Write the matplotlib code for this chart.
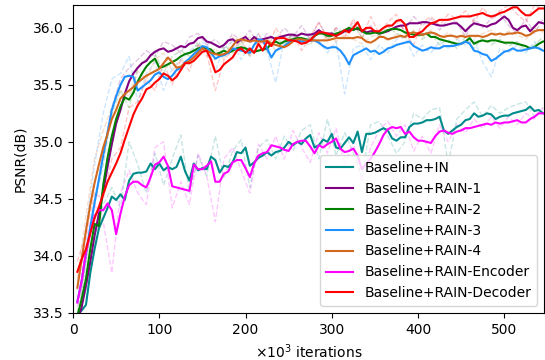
import matplotlib
matplotlib.use('Agg')
import matplotlib.pyplot as plt

# iterations (x10^3)
iters = list(range(5, 550, 5))
iters_raw = list(range(5, 550, 10))

labels = ['Baseline+IN', 'Baseline+RAIN-1', 'Baseline+RAIN-2', 'Baseline+RAIN-3',
          'Baseline+RAIN-4', 'Baseline+RAIN-Encoder', 'Baseline+RAIN-Decoder']
colors = ['darkcyan', 'purple', 'green', 'dodgerblue', 'chocolate', 'magenta', 'red']

# smoothed curves
psnr_in = [
    33.49, 33.52, 33.57, 33.85, 34.06, 34.24, 34.33, 34.42, 34.52, 34.49,
    34.54, 34.49, 34.66, 34.72, 34.73, 34.73, 34.74, 34.81, 34.76, 34.81,
    34.75, 34.78, 34.76, 34.78, 34.87, 34.74, 34.66, 34.81, 34.75, 34.77,
    34.76, 34.87, 34.84, 34.73, 34.79, 34.78, 34.82, 34.91, 34.90, 34.95,
    34.79, 34.82, 34.86, 34.88, 34.91, 34.88, 34.91, 34.92, 34.95, 35.00,
    34.97, 35.00, 34.98, 35.03, 35.06, 34.95, 34.97, 35.02, 35.00, 35.07,
    34.95, 34.94, 34.99, 35.04, 34.99, 35.09, 34.91, 35.07, 35.07, 35.08,
    35.10, 35.12, 35.10, 35.03, 35.01, 35.04, 35.04, 35.13, 35.16, 35.16,
    35.17, 35.19, 35.19, 35.20, 35.22, 35.10, 35.07, 35.10, 35.13, 35.15,
    35.19, 35.20, 35.25, 35.22, 35.23, 35.25, 35.24, 35.20, 35.22, 35.23,
    35.23, 35.25, 35.26, 35.27, 35.28, 35.31, 35.27, 35.28, 35.25]
psnr_rain1 = [
    33.42, 33.55, 33.74, 33.95, 34.18, 34.37, 34.57, 34.78, 34.98, 35.16,
    35.28, 35.42, 35.53, 35.60, 35.65, 35.69, 35.71, 35.76, 35.79, 35.81,
    35.82, 35.79, 35.80, 35.82, 35.84, 35.83, 35.86, 35.87, 35.91, 35.92,
    35.88, 35.87, 35.85, 35.83, 35.85, 35.89, 35.90, 35.87, 35.90, 35.92,
    35.88, 35.92, 35.89, 35.90, 35.91, 35.92, 35.90, 35.92, 35.93, 35.94,
    35.94, 35.93, 35.95, 35.94, 35.94, 35.95, 35.98, 35.95, 35.95, 35.95,
    35.93, 35.95, 35.97, 35.98, 35.99, 35.99, 35.98, 35.96, 35.97, 35.97,
    35.95, 35.96, 35.97, 35.99, 36.01, 36.02, 36.02, 36.04, 36.04, 36.04,
    36.05, 36.05, 36.04, 36.03, 36.02, 36.02, 36.03, 36.04, 36.04, 36.01,
    35.97, 36.01, 36.04, 36.03, 36.02, 36.01, 36.03, 36.04, 36.07, 36.10,
    36.07, 36.00, 35.98, 36.01, 36.02, 35.97, 36.01, 36.05, 36.04]
psnr_rain2 = [
    33.47, 33.62, 33.80, 34.06, 34.28, 34.26, 34.62, 34.86, 35.05, 35.20,
    35.31, 35.39, 35.37, 35.43, 35.53, 35.60, 35.66, 35.70, 35.73, 35.65,
    35.66, 35.68, 35.70, 35.72, 35.75, 35.77, 35.78, 35.80, 35.82, 35.83,
    35.82, 35.81, 35.77, 35.78, 35.80, 35.78, 35.80, 35.82, 35.83, 35.82,
    35.80, 35.79, 35.80, 35.81, 35.82, 35.86, 35.88, 35.86, 35.88, 35.89,
    35.90, 35.91, 35.91, 35.90, 35.89, 35.93, 35.95, 35.95, 35.93, 35.93,
    35.95, 35.96, 35.98, 36.00, 35.98, 36.00, 35.97, 35.95, 35.95, 35.96,
    35.95, 35.96, 35.98, 35.99, 35.99, 35.98, 35.96, 35.95, 35.94, 35.94,
    35.94, 35.95, 35.92, 35.92, 35.90, 35.89, 35.88, 35.87, 35.86, 35.86,
    35.88, 35.91, 35.86, 35.88, 35.89, 35.88, 35.89, 35.89, 35.88, 35.87,
    35.87, 35.87, 35.86, 35.85, 35.84, 35.82, 35.83, 35.86, 35.88]
psnr_rain3 = [
    33.60, 33.78, 34.02, 34.25, 34.47, 34.67, 34.88, 35.08, 35.28, 35.40,
    35.50, 35.57, 35.58, 35.57, 35.45, 35.48, 35.51, 35.54, 35.59, 35.61,
    35.57, 35.55, 35.58, 35.63, 35.65, 35.70, 35.73, 35.77, 35.80, 35.84,
    35.83, 35.78, 35.73, 35.75, 35.76, 35.78, 35.82, 35.81, 35.80, 35.79,
    35.78, 35.85, 35.90, 35.89, 35.82, 35.74, 35.80, 35.82, 35.84, 35.87,
    35.89, 35.89, 35.88, 35.89, 35.89, 35.89, 35.87, 35.84, 35.82, 35.83,
    35.83, 35.80, 35.75, 35.68, 35.76, 35.78, 35.80, 35.82, 35.79, 35.80,
    35.77, 35.79, 35.82, 35.83, 35.85, 35.86, 35.87, 35.88, 35.84, 35.82,
    35.80, 35.81, 35.83, 35.82, 35.82, 35.84, 35.84, 35.84, 35.85, 35.86,
    35.88, 35.86, 35.80, 35.79, 35.77, 35.76, 35.71, 35.73, 35.76, 35.79,
    35.80, 35.82, 35.80, 35.80, 35.81, 35.82, 35.83, 35.82, 35.80]
psnr_rain4 = [
    33.72, 33.97, 34.22, 34.45, 34.64, 34.80, 34.95, 35.07, 35.20, 35.28,
    35.38, 35.42, 35.45, 35.48, 35.52, 35.55, 35.58, 35.60, 35.62, 35.64,
    35.69, 35.74, 35.70, 35.65, 35.66, 35.69, 35.71, 35.74, 35.78, 35.82,
    35.80, 35.78, 35.77, 35.76, 35.77, 35.79, 35.84, 35.89, 35.90, 35.89,
    35.88, 35.89, 35.88, 35.88, 35.89, 35.86, 35.85, 35.84, 35.83, 35.85,
    35.88, 35.90, 35.90, 35.89, 35.89, 35.89, 35.89, 35.89, 35.89, 35.90,
    35.91, 35.91, 35.91, 35.91, 35.91, 35.92, 35.91, 35.88, 35.87, 35.89,
    35.92, 35.92, 35.90, 35.91, 35.92, 35.93, 35.92, 35.95, 35.96, 35.95,
    35.94, 35.95, 35.96, 35.95, 35.93, 35.92, 35.93, 35.93, 35.92, 35.93,
    35.92, 35.93, 35.93, 35.93, 35.92, 35.93, 35.95, 35.94, 35.95, 35.94,
    35.95, 35.95, 35.96, 35.95, 35.93, 35.94, 35.97, 35.98, 35.98]
psnr_enc = [
    33.59, 33.78, 34.03, 34.20, 34.35, 34.40, 34.40, 34.46, 34.40, 34.19,
    34.37, 34.52, 34.62, 34.65, 34.65, 34.62, 34.60, 34.69, 34.80, 34.82,
    34.87, 34.79, 34.61, 34.60, 34.59, 34.58, 34.57, 34.80, 34.76, 34.76,
    34.79, 34.83, 34.65, 34.65, 34.72, 34.74, 34.82, 34.84, 34.84, 34.77,
    34.69, 34.81, 34.88, 34.90, 34.91, 34.97, 34.96, 34.95, 34.93, 34.92,
    34.98, 35.00, 35.01, 35.01, 34.96, 34.90, 34.97, 34.95, 34.98, 35.00,
    35.03, 34.94, 34.91, 34.92, 34.94, 34.88, 34.76, 34.81, 34.85, 34.91,
    34.98, 35.06, 35.11, 35.13, 35.12, 35.13, 35.07, 35.09, 35.04, 35.01,
    35.01, 35.00, 34.99, 35.05, 35.09, 35.10, 35.08, 35.07, 35.09, 35.10,
    35.12, 35.12, 35.13, 35.14, 35.15, 35.16, 35.15, 35.17, 35.16, 35.17,
    35.17, 35.18, 35.19, 35.17, 35.17, 35.20, 35.22, 35.25, 35.25]
psnr_dec = [
    33.86, 33.97, 34.06, 34.20, 34.33, 34.43, 34.54, 34.65, 34.73, 34.81,
    34.90, 35.02, 35.13, 35.24, 35.32, 35.38, 35.46, 35.48, 35.52, 35.55,
    35.60, 35.58, 35.54, 35.57, 35.63, 35.69, 35.69, 35.71, 35.75, 35.79,
    35.80, 35.72, 35.61, 35.63, 35.68, 35.71, 35.74, 35.80, 35.82, 35.78,
    35.82, 35.78, 35.86, 35.80, 35.88, 35.84, 35.91, 35.91, 35.91, 35.89,
    35.89, 35.88, 35.86, 35.87, 35.89, 35.93, 35.96, 35.96, 35.95, 35.94,
    35.93, 35.95, 35.98, 35.96, 36.00, 36.05, 35.97, 36.00, 36.00, 35.97,
    35.97, 36.00, 36.02, 36.02, 36.06, 36.07, 36.03, 35.92, 35.92, 35.95,
    35.97, 36.01, 36.04, 36.05, 36.07, 36.07, 36.07, 36.08, 36.09, 36.10,
    36.10, 36.10, 36.11, 36.12, 36.13, 36.11, 36.10, 36.11, 36.13, 36.14,
    36.16, 36.18, 36.18, 36.14, 36.11, 36.11, 36.14, 36.17, 36.17]

# raw (unsmoothed) curves
raw_in = [
    33.45, 33.70, 34.15, 34.45, 34.60, 34.42, 35.00, 34.80, 34.55, 34.90,
    34.62, 34.85, 35.06, 34.55, 34.88, 34.70, 35.05, 34.68, 34.92, 35.02,
    34.60, 34.95, 35.02, 34.85, 35.05, 34.92, 35.10, 35.15, 34.85, 35.20,
    34.88, 35.08, 34.90, 34.70, 35.15, 35.18, 35.05, 34.90, 35.00, 35.25,
    35.20, 35.28, 35.30, 34.80, 35.20, 35.28, 35.35, 35.22, 35.32, 35.25,
    35.30, 35.33, 35.35, 35.22, 35.30]
raw_rain1 = [
    33.40, 33.95, 34.45, 34.90, 35.30, 35.55, 35.65, 35.72, 35.80, 35.75,
    35.88, 35.85, 35.78, 35.92, 35.95, 35.85, 35.90, 35.82, 35.95, 35.88,
    35.98, 35.85, 35.95, 35.90, 36.00, 35.92, 36.02, 35.90, 36.05, 35.92,
    36.00, 35.95, 36.05, 35.95, 36.02, 35.92, 36.00, 36.05, 35.98, 36.10,
    36.02, 36.08, 35.98, 36.08, 36.05, 35.92, 36.08, 36.00, 36.08, 36.12,
    36.02, 35.95, 36.08, 35.95, 36.08]
raw_rain2 = [
    33.50, 33.95, 34.45, 34.80, 35.25, 35.45, 35.30, 35.65, 35.72, 35.78,
    35.60, 35.75, 35.80, 35.75, 35.88, 35.78, 35.72, 35.85, 35.78, 35.88,
    35.75, 35.85, 35.78, 35.92, 35.85, 35.95, 35.88, 35.85, 35.98, 35.90,
    35.98, 35.95, 36.02, 35.92, 35.98, 35.92, 36.02, 35.95, 35.92, 35.97,
    35.90, 35.95, 35.85, 35.90, 35.82, 35.92, 35.82, 35.92, 35.85, 35.90,
    35.84, 35.88, 35.80, 35.85, 35.92]
raw_rain3 = [
    33.70, 34.25, 34.80, 35.25, 35.55, 35.60, 35.75, 35.35, 35.60, 35.70,
    35.45, 35.65, 35.72, 35.80, 35.85, 35.88, 35.62, 35.82, 35.88, 35.72,
    35.85, 35.95, 35.80, 35.52, 35.90, 35.93, 35.85, 35.95, 35.88, 35.78,
    35.88, 35.42, 35.82, 35.85, 35.72, 35.85, 35.78, 35.90, 35.92, 35.75,
    35.85, 35.78, 35.88, 35.82, 35.90, 35.85, 35.90, 35.70, 35.57, 35.82,
    35.78, 35.85, 35.78, 35.88, 35.80]
raw_rain4 = [
    33.80, 34.35, 34.85, 35.10, 35.30, 35.45, 35.40, 35.62, 35.55, 35.72,
    35.78, 35.62, 35.72, 35.68, 35.85, 35.75, 35.82, 35.72, 35.92, 35.85,
    35.92, 35.84, 35.92, 35.80, 35.88, 35.92, 35.86, 35.92, 35.86, 35.93,
    35.88, 35.94, 35.90, 35.86, 35.92, 35.95, 35.88, 35.95, 35.90, 35.98,
    35.92, 35.98, 35.90, 35.96, 35.90, 35.95, 35.91, 35.95, 35.98, 35.92,
    35.97, 35.94, 35.90, 36.00, 35.96]
raw_enc = [
    33.55, 34.15, 34.45, 34.30, 33.85, 34.55, 34.75, 34.55, 34.45, 34.95,
    35.00, 34.42, 34.65, 34.45, 34.90, 34.70, 34.30, 34.85, 34.95, 34.75,
    34.55, 34.98, 34.85, 35.05, 34.85, 35.10, 34.95, 34.82, 35.08, 34.90,
    35.12, 34.80, 35.00, 34.65, 34.95, 35.10, 35.18, 35.05, 35.15, 34.92,
    35.05, 34.90, 35.15, 35.00, 35.15, 35.08, 35.20, 35.12, 35.22, 35.12,
    35.22, 35.15, 35.25, 35.20, 35.30]
raw_dec = [
    33.95, 34.20, 34.55, 34.50, 34.85, 34.95, 35.30, 35.35, 35.55, 35.45,
    35.70, 35.50, 35.72, 35.62, 35.85, 35.78, 35.45, 35.72, 35.80, 35.90,
    35.75, 35.95, 35.80, 36.00, 35.88, 35.95, 35.80, 35.92, 36.05, 35.90,
    36.00, 35.92, 36.08, 35.90, 36.10, 35.95, 36.05, 36.12, 35.95, 35.85,
    36.05, 36.10, 36.02, 36.12, 36.08, 36.15, 36.05, 36.18, 36.08, 36.15,
    36.20, 36.12, 36.05, 36.20, 36.15]

smooth = [psnr_in, psnr_rain1, psnr_rain2, psnr_rain3, psnr_rain4, psnr_enc, psnr_dec]
raw = [raw_in, raw_rain1, raw_rain2, raw_rain3, raw_rain4, raw_enc, raw_dec]

fig = plt.figure(figsize=(5.45, 3.6), dpi=100)
ax = fig.add_axes([0.134, 0.131, 0.864, 0.855])

# faint dashed raw curves first
for r, c in zip(raw, colors):
    ax.plot(iters_raw, r, color=c, linestyle='--', linewidth=1.0, alpha=0.22)

for s, c, lab in zip(smooth, colors, labels):
    ax.plot(iters, s, color=c, linewidth=1.5, label=lab)

ax.set_xlim(0, 546)
ax.set_ylim(33.5, 36.2)
ax.set_xticks([0, 100, 200, 300, 400, 500])
ax.set_yticks([33.5, 34.0, 34.5, 35.0, 35.5, 36.0])
ax.set_yticklabels(['33.5', '34.0', '34.5', '35.0', '35.5', '36.0'])
ax.tick_params(labelsize=10)
ax.set_xlabel(r'$\times10^3$ iterations', fontsize=10)
ax.set_ylabel('PSNR(dB)', fontsize=10)
ax.legend(loc='lower right', fontsize=10)

fig.savefig('out.png', dpi=100)
